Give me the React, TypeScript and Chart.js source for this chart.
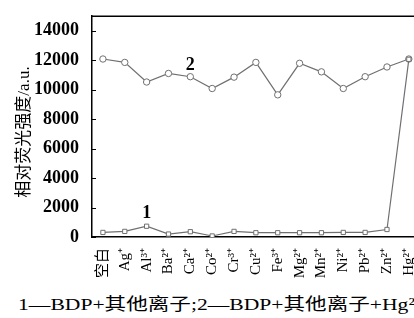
import React, { useEffect, useRef } from "react";
import { Chart, registerables } from "chart.js";

Chart.register(...registerables);

const categories = ["空白", "Ag⁺", "Al³⁺", "Ba²⁺", "Ca²⁺", "Co²⁺", "Cr³⁺", "Cu²⁺", "Fe³⁺", "Mg²⁺", "Mn²⁺", "Ni²⁺", "Pb²⁺", "Zn²⁺", "Hg²⁺"];
const series1 = [310, 380, 730, 200, 360, 70, 380, 290, 290, 290, 290, 310, 310, 510, 12050];
const series2 = [12070, 11840, 10510, 11090, 10870, 10070, 10840, 11840, 9640, 11780, 11200, 10070, 10870, 11530, 12070];
const yTicks = [0, 2000, 4000, 6000, 8000, 10000, 12000, 14000];
const yMax = 15000;
const yTitle = "相对荧光强度/a.u.";
const seriesLabels = [
  { text: "1", index: 2, value: 1600 },
  { text: "2", index: 4, value: 11670 },
];
const caption = "1—BDP+其他离子;2—BDP+其他离子+Hg²⁺";

const SERIF = '"Liberation Serif", "Noto Sans CJK SC", serif';
const LINE = "#707070";

export default function App() {
  const ref = useRef<HTMLCanvasElement | null>(null);
  useEffect(() => {
    if (!ref.current) return;
    const decor = {
      id: "decor",
      afterDraw(chart: any) {
        const { ctx, chartArea } = chart;
        const x = chart.scales.x;
        const y = chart.scales.y;
        ctx.save();
        ctx.strokeStyle = "#000";
        ctx.lineWidth = 1.5;
        ctx.beginPath();
        ctx.moveTo(chartArea.left, chartArea.top + 0.5);
        ctx.lineTo(chartArea.right + 5, chartArea.top + 0.5);
        ctx.stroke();
        ctx.lineWidth = 1;
        ctx.beginPath();
        for (const v of yTicks) {
          const py = Math.round(y.getPixelForValue(v)) + 0.5;
          ctx.moveTo(chartArea.left, py);
          ctx.lineTo(chartArea.left + 4, py);
        }
        ctx.stroke();
        ctx.fillStyle = "#000";
        ctx.font = 'bold 18px ' + SERIF;
        ctx.textAlign = "center";
        ctx.textBaseline = "middle";
        for (const l of seriesLabels) {
          ctx.fillText(l.text, x.getPixelForValue(l.index), y.getPixelForValue(l.value));
        }
        ctx.translate(25, 132);
        ctx.rotate(-Math.PI / 2);
        ctx.font = '17px ' + SERIF;
        ctx.fillText(yTitle, 0, 0);
        ctx.restore();
      },
    };
    const chart = new Chart(ref.current, {
      type: "line",
      data: {
        labels: categories,
        datasets: [
          {
            data: series1,
            borderColor: LINE,
            borderWidth: 1.2,
            pointStyle: "rect",
            pointRadius: 3,
            pointBorderWidth: 1,
            pointBackgroundColor: "#fff",
            pointBorderColor: LINE,
            tension: 0,
          },
          {
            data: series2,
            borderColor: LINE,
            borderWidth: 1.2,
            pointStyle: "circle",
            pointRadius: 3.2,
            pointBorderWidth: 1,
            pointBackgroundColor: "#fff",
            pointBorderColor: LINE,
            tension: 0,
          },
        ],
      },
      options: {
        animation: false,
        responsive: false,
        layout: { padding: { top: 12, left: 0, right: 0, bottom: 0 } },
        plugins: { legend: { display: false }, tooltip: { enabled: false } },
        scales: {
          x: {
            offset: true,
            grid: { display: false },
            border: { display: true, color: "#000", width: 1.5 },
            ticks: {
              color: "#000",
              font: { family: SERIF, size: 15 },
              maxRotation: 90,
              minRotation: 90,
              autoSkip: false,
              padding: 3,
            },
            afterFit: (s: any) => {
              s.height = 43;
            },
          },
          y: {
            min: 0,
            max: yMax,
            grid: { display: false },
            border: { display: true, color: "#000", width: 1.5 },
            afterBuildTicks: (s: any) => {
              s.ticks = yTicks.map((v) => ({ value: v }));
            },
            ticks: {
              color: "#000",
              font: { family: SERIF, size: 18, weight: "bold" },
              padding: 5,
              callback: (v: any) => String(v),
            },
            afterFit: (s: any) => {
              s.width = 92;
            },
          },
        },
      },
      plugins: [decor],
    } as any);
    return () => chart.destroy();
  }, []);
  return (
    <div style={{ position: "fixed", left: 0, top: 0, width: 414, height: 318, overflow: "hidden", background: "#fff" }}>
      <canvas ref={ref} width={430} height={280} style={{ position: "absolute", left: 0, top: 0, width: 430, height: 280 }} />
      <div
        style={{
          position: "absolute",
          left: 18,
          top: 295,
          whiteSpace: "nowrap",
          fontFamily: SERIF,
          fontSize: 17,
          lineHeight: "19px",
          color: "#000",
          transform: "scaleX(1.27)",
          transformOrigin: "left top",
        }}
      >
        {caption}
      </div>
    </div>
  );
}
